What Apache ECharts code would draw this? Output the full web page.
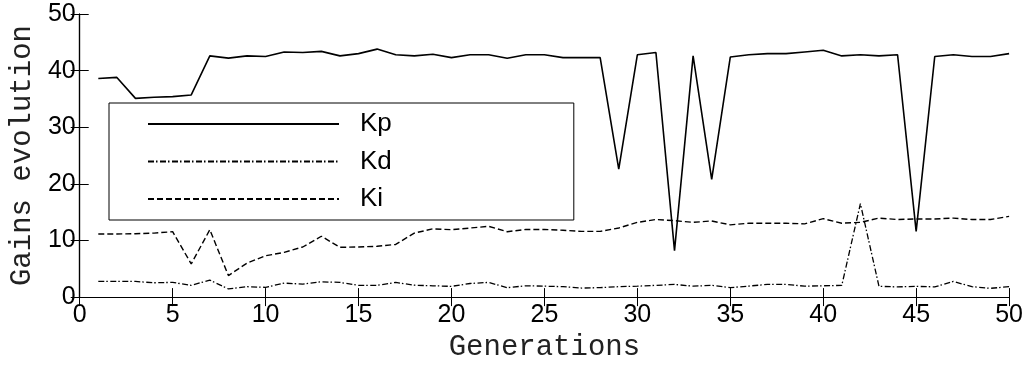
<!DOCTYPE html>
<html>
<head>
<meta charset="utf-8">
<script src="https://cdn.jsdelivr.net/npm/echarts@6/dist/echarts.min.js"></script>
<style>
  html, body { margin: 0; padding: 0; background: #fff; }
  #main { width: 1026px; height: 367px; }
</style>
</head>
<body>
<div id="main"></div>
<script>
// generations (x)
const generations = [1, 2, 3, 4, 5, 6, 7, 8, 9, 10, 11, 12, 13, 14, 15, 16, 17, 18, 19, 20,
  21, 22, 23, 24, 25, 26, 27, 28, 29, 30, 31, 32, 33, 34, 35, 36, 37, 38, 39, 40,
  41, 42, 43, 44, 45, 46, 47, 48, 49, 50];

// gains
const kp = [38.6, 38.8, 35.1, 35.3, 35.4, 35.7, 42.6, 42.2, 42.6, 42.5,
  43.3, 43.2, 43.4, 42.6, 43.0, 43.8, 42.8, 42.6, 42.9, 42.3,
  42.8, 42.8, 42.2, 42.8, 42.8, 42.3, 42.3, 42.3, 22.6, 42.8,
  43.2, 8.2, 42.6, 20.8, 42.4, 42.8, 43.0, 43.0, 43.3, 43.6,
  42.6, 42.8, 42.6, 42.8, 11.6, 42.5, 42.8, 42.5, 42.5, 43.0];

const kd = [2.76, 2.76, 2.76, 2.53, 2.6, 2.07, 3.0, 1.44, 1.84, 1.72,
  2.47, 2.3, 2.7, 2.6, 2.07, 2.07, 2.6, 2.1, 2.0, 1.9,
  2.4, 2.6, 1.67, 2.0, 1.93, 1.84, 1.6, 1.67, 1.84, 1.93,
  2.07, 2.24, 1.93, 2.07, 1.67, 1.95, 2.24, 2.24, 1.93, 2.0,
  2.07, 16.5, 1.9, 1.8, 1.9, 1.8, 2.76, 1.84, 1.55, 1.84];

const ki = [11.15, 11.15, 11.2, 11.3, 11.55, 5.86, 11.9, 3.8, 6.0, 7.3,
  7.9, 8.85, 10.75, 8.8, 8.85, 8.97, 9.3, 11.3, 12.06, 11.9,
  12.2, 12.5, 11.55, 11.95, 11.95, 11.8, 11.6, 11.6, 12.2, 13.2,
  13.7, 13.5, 13.2, 13.45, 12.76, 13.05, 13.05, 13.05, 12.93, 13.85,
  13.05, 13.2, 13.95, 13.7, 13.8, 13.8, 13.95, 13.7, 13.7, 14.25];

const xTicks = { min: 0, max: 50, interval: 5 };
const yTicks = { min: 0, max: 50, interval: 10 };

function pairs(vals) {
  return generations.map((g, i) => [g, vals[i]]);
}

const chart = echarts.init(document.getElementById('main'));

const tickStyle = {
  show: true, inside: true, length: 9,
  lineStyle: { color: '#000', width: 1 }
};
const lineAxis = { show: true, lineStyle: { color: '#000', width: 1.2 } };
const labelFont = { color: '#000', fontFamily: 'Liberation Sans', fontSize: 25 };
const nameFont = { color: '#222', fontFamily: 'Liberation Mono', fontSize: 29 };

const option = {
  animation: false,
  backgroundColor: '#fff',
  grid: { left: 76, right: 16, top: 14, bottom: 63, containLabel: false },
  legend: {
    left: 109,
    top: 103,
    orient: 'vertical',
    padding: [8, 182, 8, 38],
    itemWidth: 191,
    itemHeight: 14,
    itemGap: 11.5,
    backgroundColor: '#fff',
    borderColor: '#000',
    borderWidth: 1,
    itemStyle: { opacity: 0 },
    textStyle: {
      color: '#000', fontFamily: 'Liberation Sans', fontSize: 26,
      lineHeight: 26, padding: [0, 0, 0, 16]
    },
    data: ['Kp', 'Kd', 'Ki']
  },
  xAxis: [
    {
      type: 'value', position: 'bottom',
      min: xTicks.min, max: xTicks.max, interval: xTicks.interval,
      name: 'Generations', nameLocation: 'middle', nameGap: 32,
      nameTextStyle: nameFont,
      axisLine: lineAxis, axisTick: tickStyle,
      axisLabel: Object.assign({ margin: 6 }, labelFont),
      splitLine: { show: false }
    },
    {
      type: 'value', position: 'top',
      min: xTicks.min, max: xTicks.max, interval: xTicks.interval,
      axisLine: lineAxis, axisTick: tickStyle,
      axisLabel: { show: false }, splitLine: { show: false }
    }
  ],
  yAxis: [
    {
      type: 'value', position: 'left',
      min: yTicks.min, max: yTicks.max, interval: yTicks.interval,
      name: 'Gains evolution', nameLocation: 'middle', nameGap: 37,
      nameTextStyle: nameFont,
      axisLine: lineAxis, axisTick: tickStyle,
      axisLabel: Object.assign({ margin: 4 }, labelFont),
      splitLine: { show: false }
    },
    {
      type: 'value', position: 'right',
      min: yTicks.min, max: yTicks.max, interval: yTicks.interval,
      axisLine: lineAxis, axisTick: tickStyle,
      axisLabel: { show: false }, splitLine: { show: false }
    }
  ],
  series: [
    {
      name: 'Kp', type: 'line', data: pairs(kp),
      showSymbol: false, symbol: 'none', color: '#000',
      lineStyle: { color: '#000', width: 1.6, type: 'solid' }
    },
    {
      name: 'Kd', type: 'line', data: pairs(kd),
      showSymbol: false, symbol: 'none', color: '#000',
      lineStyle: { color: '#000', width: 1.3, type: [6, 2, 1.5, 2.5] }
    },
    {
      name: 'Ki', type: 'line', data: pairs(ki),
      showSymbol: false, symbol: 'none', color: '#000',
      lineStyle: { color: '#000', width: 1.4, type: [6, 3] }
    }
  ]
};

chart.setOption(option);
</script>
</body>
</html>
